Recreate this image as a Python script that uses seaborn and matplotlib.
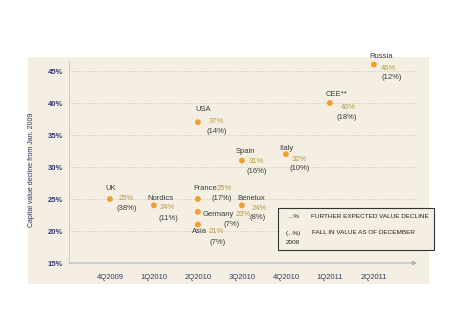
import matplotlib
matplotlib.use("Agg")
import matplotlib.pyplot as plt
from matplotlib.patches import Rectangle
import numpy as np
import pandas as pd
import seaborn as sns

# Quarter axis and per-market values
quarters = ["4Q2009", "1Q2010", "2Q2010", "3Q2010", "4Q2010", "1Q2011", "2Q2011"]
markets = ["UK", "Nordics", "France", "Germany", "Asia", "USA",
           "Spain", "Benelux", "Italy", "CEE**", "Russia"]
bottom_quarter = ["4Q2009", "1Q2010", "2Q2010", "2Q2010", "2Q2010", "2Q2010",
                  "3Q2010", "3Q2010", "4Q2010", "1Q2011", "2Q2011"]
total_decline = [25, 24, 25, 23, 21, 37, 31, 24, 32, 40, 46]
fall_dec2008 = [38, 11, 17, 7, 7, 14, 16, 8, 10, 18, 12]
y_ticks = [15, 20, 25, 30, 35, 40, 45]

# Label placement (pixel offsets from each dot): name, value, fall
label_offsets = {
    "UK":      ((-5, 10), (9, 0), (7, -10)),
    "Nordics": ((-7, 7), (6, -2), (5, -13)),
    "France":  ((-5, 11), (19, 11), (14, 1)),
    "Germany": ((5, -3), (38, -3), (26, -13)),
    "Asia":    ((-6, -7), (11, -7), (12, -18)),
    "USA":     ((-3, 13), (11, 1), (9, -9)),
    "Spain":   ((-6, 9), (7, -1), (5, -11)),
    "Benelux": ((-5, 7), (10, -3), (8, -12)),
    "Italy":   ((-7, 6), (6, -5), (4, -14)),
    "CEE**":   ((-4, 9), (11, -4), (7, -14)),
    "Russia":  ((-5, 8), (7, -4), (8, -13)),
}

df = pd.DataFrame({
    "market": markets,
    "pos": [quarters.index(q) for q in bottom_quarter],
    "decline": total_decline,
    "fall": fall_dec2008,
})

sns.set_theme(style="white")
plt.rcParams["font.family"] = ["Liberation Sans", "DejaVu Sans"]

PANEL = "#F5EFE3"
ORANGE = "#F0A030"
OLIVE = "#B39B45"
GREY_TXT = "#3C3C3C"
NAVY = "#2E3B6E"

fig = plt.figure(figsize=(4.5, 3.22), dpi=100)
fig.patch.set_facecolor("white")
panel = Rectangle((28 / 450, 38 / 322), 401 / 450, 227 / 322,
                  transform=fig.transFigure, facecolor=PANEL,
                  edgecolor="none", zorder=-10)
fig.patches.append(panel)

ax = fig.add_axes([69 / 450, 59 / 322, 348 / 450, 201.6 / 322])
ax.set_zorder(1)
ax.set_facecolor("none")

sns.scatterplot(data=df, x="pos", y="decline", ax=ax, color=ORANGE,
                s=18, edgecolor="none", zorder=3, legend=False)

ax.set_xlim(-0.93, 6.98)
ax.set_ylim(15, 46.5)

# Dotted horizontal guides
for yv in y_ticks[1:]:
    ax.axhline(yv, xmin=0, xmax=0.995, color="#C9C4BA", lw=0.6,
               ls=(0, (1.2, 1.6)), zorder=1)

ax.set_yticks(y_ticks)
ax.set_yticklabels([f"{v}%" for v in y_ticks], fontsize=5.5,
                   fontweight="bold", color=NAVY)
ax.set_xticks(range(len(quarters)))
ax.set_xticklabels(quarters, fontsize=5.5, color=NAVY)
ax.tick_params(axis="y", length=0, pad=4.5)
ax.tick_params(axis="x", length=2, width=0.5, direction="in",
               color="#B8BFCC", pad=8)
ax.set_xlabel("")
ax.set_ylabel("Capital value decline from Jan. 2009", fontsize=5,
              color=NAVY)
ax.yaxis.set_label_coords(-0.098, 0.46)

for side in ["top", "right", "bottom"]:
    ax.spines[side].set_visible(False)
ax.spines["left"].set_color("#C8C8C8")
ax.spines["left"].set_linewidth(0.6)

# Bottom axis drawn as an arrow
ax.annotate("", xy=(1.0, 0), xytext=(0, 0), xycoords="axes fraction",
            arrowprops=dict(arrowstyle="-|>", color="#A9B1C2", lw=0.8,
                            mutation_scale=6, shrinkA=0, shrinkB=0),
            zorder=2)

for _, r in df.iterrows():
    name_off, val_off, fall_off = label_offsets[r["market"]]
    ax.annotate(r["market"], (r["pos"], r["decline"]), xytext=name_off,
                textcoords="offset pixels", fontsize=5.5, color=GREY_TXT,
                ha="left", va="center", zorder=4)
    ax.annotate(f"{r['decline']}%", (r["pos"], r["decline"]), xytext=val_off,
                textcoords="offset pixels", fontsize=5.5, color=OLIVE,
                ha="left", va="center", zorder=4)
    ax.annotate(f"({r['fall']}%)", (r["pos"], r["decline"]), xytext=fall_off,
                textcoords="offset pixels", fontsize=5.5, color=GREY_TXT,
                ha="left", va="center", zorder=4)

# Key box
key_box = Rectangle((278 / 450, 72 / 322), 156 / 450, 42 / 322,
                    transform=fig.transFigure, facecolor=PANEL,
                    edgecolor="#333333", lw=0.8, zorder=5)
fig.patches.append(key_box)
key_kw = dict(fontsize=4.6, color="#222222", va="center", ha="left", zorder=6)
fig.text(288 / 450, 1 - 216 / 322, "...%", **key_kw)
fig.text(311 / 450, 1 - 216 / 322, "FURTHER EXPECTED VALUE DECLINE", **key_kw)
fig.text(286 / 450, 1 - 233 / 322, "(...%)", **key_kw)
fig.text(312 / 450, 1 - 233 / 322, "FALL IN VALUE AS OF DECEMBER", **key_kw)
fig.text(286 / 450, 1 - 243 / 322, "2008", **key_kw)

fig.savefig("out.png", dpi=100, facecolor="white")
